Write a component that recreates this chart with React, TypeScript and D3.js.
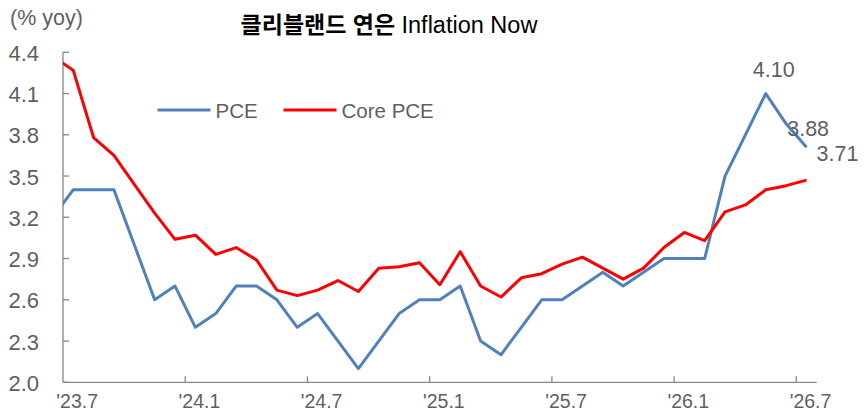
import React from "react";
import * as d3 from "d3";

// month labels: first entry ('23.6) lies just left of the visible axis and is clipped
const months = [
  "'23.6", "'23.7", "'23.8", "'23.9", "'23.10", "'23.11", "'23.12",
  "'24.1", "'24.2", "'24.3", "'24.4", "'24.5", "'24.6",
  "'24.7", "'24.8", "'24.9", "'24.10", "'24.11", "'24.12",
  "'25.1", "'25.2", "'25.3", "'25.4", "'25.5", "'25.6",
  "'25.7", "'25.8", "'25.9", "'25.10", "'25.11", "'25.12",
  "'26.1", "'26.2", "'26.3", "'26.4", "'26.5", "'26.6", "'26.7",
];

const pce = [
  3.2, 3.4, 3.4, 3.4, 3.0, 2.6, 2.7,
  2.4, 2.5, 2.7, 2.7, 2.6, 2.4,
  2.5, 2.3, 2.1, 2.3, 2.5, 2.6,
  2.6, 2.7, 2.3, 2.2, 2.4, 2.6,
  2.6, 2.7, 2.8, 2.7, 2.8, 2.9,
  2.9, 2.9, 3.5, 3.8, 4.1, 3.88, 3.71,
];

const corePce = [
  4.37, 4.27, 3.78, 3.65, 3.44, 3.23, 3.04,
  3.07, 2.93, 2.98, 2.89, 2.67, 2.63,
  2.67, 2.74, 2.66, 2.83, 2.84, 2.87,
  2.71, 2.95, 2.7, 2.62, 2.76, 2.79,
  2.86, 2.91, 2.83, 2.75, 2.83, 2.98,
  3.09, 3.03, 3.24, 3.29, 3.4, 3.43, 3.47,
];

const yTicks = [2.0, 2.3, 2.6, 2.9, 3.2, 3.5, 3.8, 4.1, 4.4];
const xTickLabels = ["'23.7", "'24.1", "'24.7", "'25.1", "'25.7", "'26.1", "'26.7"];

const annotations = [
  { label: "4.10", month: "'26.5" },
  { label: "3.88", month: "'26.6" },
  { label: "3.71", month: "'26.7" },
];

const seriesList = [
  { name: "PCE", values: pce, color: "#4F81BD" },
  { name: "Core PCE", values: corePce, color: "#FF0000" },
];

const W = 866;
const H = 416;
const left = 63;
const right = 816.7;
const top = 52.3;
const bottom = 382.3;
const axisColor = "#868686";
const textColor = "#5f5f5f";
const font = "'Liberation Sans', Arial, 'Noto Sans CJK KR', sans-serif";

export default function App() {
  // category index: '23.7 -> 0 ; first data month sits at -1 (clipped)
  const catIndex = (m: string) => months.indexOf(m) - 1;
  const nCats = months.length - 1;
  const x = d3.scaleLinear().domain([-0.5, nCats - 0.5]).range([left, right]);
  const y = d3.scaleLinear().domain([2.0, 4.4]).range([bottom, top]);

  const line = d3
    .line<number>()
    .x((_, i) => x(i - 1))
    .y((d) => y(d));

  const boundaryTicks = xTickLabels.slice(1).map((l) => catIndex(l) - 0.5);

  const annotOffsets: Record<string, [number, number]> = {
    "4.10": [8, -17],
    "3.88": [22, 12],
    "3.71": [31, 14],
  };

  return (
    <svg width={W} height={H} style={{ position: "absolute", left: 0, top: 0 }} fontFamily={font}>
      <defs>
        <clipPath id="plotClip">
          <rect x={left} y={0} width={right - left} height={H} />
        </clipPath>
      </defs>
      <rect x={0} y={0} width={W} height={H} fill="#fff" />

      {/* title */}
      <text x={389} y={33} textAnchor="middle" fontSize={23} fill="#000">
        <tspan fontWeight={700}>클리블랜드 연은 </tspan>
        <tspan fontWeight={400} fontSize={23.5}>Inflation Now</tspan>
      </text>
      <text x={10} y={25} fontSize={21.5} fill={textColor}>
        (% yoy)
      </text>

      {/* y axis */}
      <line x1={left} x2={left} y1={top} y2={bottom} stroke={axisColor} strokeWidth={1.3} />
      {yTicks.map((t) => (
        <g key={t}>
          <line x1={left} x2={left + 6} y1={y(t)} y2={y(t)} stroke={axisColor} strokeWidth={1.3} />
          <text x={39} y={y(t) + 8.5} textAnchor="end" fontSize={22} fill={textColor}>
            {t.toFixed(1)}
          </text>
        </g>
      ))}

      {/* x axis */}
      <line x1={left} x2={right} y1={bottom} y2={bottom} stroke={axisColor} strokeWidth={1.3} />
      {boundaryTicks.map((b) => (
        <line key={b} x1={x(b)} x2={x(b)} y1={bottom} y2={bottom - 6} stroke={axisColor} strokeWidth={1.3} />
      ))}
      {xTickLabels.map((l) => (
        <text key={l} x={x(catIndex(l)) + 4} y={408} textAnchor="middle" fontSize={19.5} fill={textColor}>
          {l}
        </text>
      ))}

      {/* lines */}
      <g clipPath="url(#plotClip)">
        {seriesList.map((s) => (
          <path
            key={s.name}
            d={line(s.values) || ""}
            fill="none"
            stroke={s.color}
            strokeWidth={3}
            strokeLinejoin="round"
          />
        ))}
      </g>

      {/* annotations */}
      {annotations.map((a) => {
        const idx = months.indexOf(a.month);
        const [dx, dy] = annotOffsets[a.label];
        return (
          <text
            key={a.label}
            x={x(idx - 1) + dx}
            y={y(pce[idx]) + dy}
            textAnchor="middle"
            fontSize={21.5}
            fill={textColor}
          >
            {a.label}
          </text>
        );
      })}

      {/* legend */}
      {seriesList.map((s, i) => {
        const lx = [157.5, 283.5][i];
        return (
          <g key={s.name}>
            <line x1={lx} x2={lx + 53} y1={110} y2={110} stroke={s.color} strokeWidth={3} />
            <text x={lx + 58} y={117.5} fontSize={20.5} fill={textColor}>
              {s.name}
            </text>
          </g>
        );
      })}
    </svg>
  );
}
